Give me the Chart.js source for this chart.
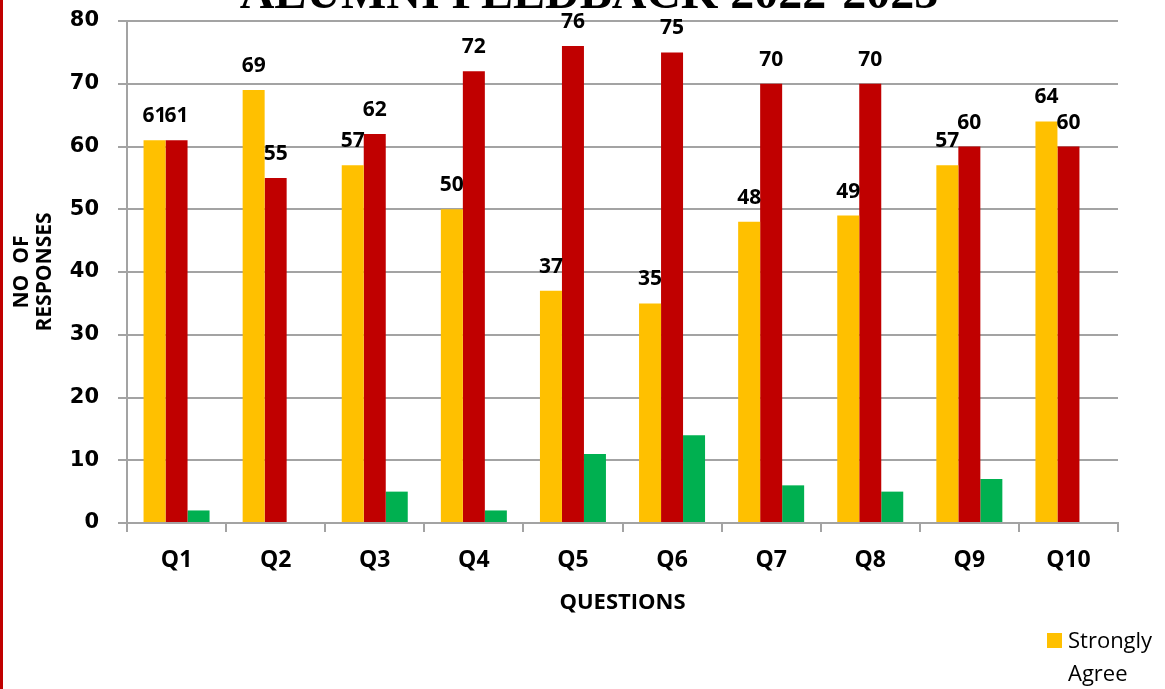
<!DOCTYPE html>
<html>
<head>
<meta charset="utf-8">
<script src="https://cdn.jsdelivr.net/npm/chart.js@4.4.0/dist/chart.umd.min.js"></script>
<style>
  html, body { margin: 0; padding: 0; background: #fff; }
  #wrap { position: relative; width: 1165px; height: 689px; }
</style>
</head>
<body>
<div id="wrap"><canvas id="barChart" width="1165" height="689"></canvas></div>
<script>
// chart data
var questions = ['Q1', 'Q2', 'Q3', 'Q4', 'Q5', 'Q6', 'Q7', 'Q8', 'Q9', 'Q10'];
var stronglyAgree = [61, 69, 57, 50, 37, 35, 48, 49, 57, 64];
var agree = [61, 55, 62, 72, 76, 75, 70, 70, 60, 60];
var neutral = [2, 0, 5, 2, 11, 14, 6, 5, 7, 0];
var yTicks = [0, 10, 20, 30, 40, 50, 60, 70, 80];

var gridColor = '#A3A3A3';
var labelFont = '"Open Sans", "Liberation Sans", sans-serif';

// title, left red line and the single visible legend item
var decorPlugin = {
    id: 'decor',
    afterDraw: function(chart) {
        var ctx = chart.ctx;
        ctx.save();
        ctx.fillStyle = '#C00000';
        ctx.fillRect(0, 0, 3, chart.height);

        ctx.fillStyle = '#000';
        ctx.font = 'bold 48px "Liberation Serif", "Times New Roman", serif';
        ctx.textAlign = 'center';
        ctx.textBaseline = 'alphabetic';
        ctx.fillText('ALUMNI FEEDBACK 2022-2023', 589, 8);

        var ds = chart.data.datasets[0];
        ctx.fillStyle = ds.backgroundColor;
        ctx.fillRect(1047, 633, 15, 15);
        ctx.fillStyle = '#000';
        ctx.font = '22px ' + labelFont;
        ctx.textAlign = 'left';
        var words = ds.label.split(' ');
        ctx.fillText(words[0], 1068, 648);
        ctx.fillText(words[1], 1068, 681);
        ctx.restore();
    }
};

// value labels above the first two series
var valueLabels = {
    id: 'valueLabels',
    afterDatasetsDraw: function(chart) {
        var ctx = chart.ctx;
        ctx.save();
        ctx.fillStyle = '#000';
        ctx.font = 'bold 21px ' + labelFont;
        ctx.textAlign = 'center';
        ctx.textBaseline = 'alphabetic';
        [0, 1].forEach(function(di) {
            var meta = chart.getDatasetMeta(di);
            meta.data.forEach(function(bar, i) {
                var v = chart.data.datasets[di].data[i];
                ctx.fillText(String(v), bar.x, bar.y - 18);
            });
        });
        ctx.restore();
    }
};

var ctx = document.getElementById('barChart').getContext('2d');
var chart = new Chart(ctx, {
    type: 'bar',
    data: {
        labels: questions,
        datasets: [
            { label: 'Strongly Agree', data: stronglyAgree, backgroundColor: '#FFC000' },
            { label: 'Agree', data: agree, backgroundColor: '#C00000' },
            { label: 'Neutral', data: neutral, backgroundColor: '#00B050' }
        ]
    },
    options: {
        responsive: false,
        animation: false,
        devicePixelRatio: 1,
        datasets: {
            bar: { categoryPercentage: 0.666, barPercentage: 1.0, borderWidth: 0 }
        },
        layout: { padding: { left: 10, right: 47, top: 21, bottom: 73 } },
        plugins: {
            legend: { display: false },
            title: { display: false },
            tooltip: { enabled: false }
        },
        scales: {
            x: {
                afterFit: function(s) { s.height = 93; },
                grid: { drawOnChartArea: false, tickLength: 9, color: gridColor, lineWidth: 2 },
                border: { color: gridColor, width: 2 },
                ticks: { color: '#000', padding: 15, font: { family: labelFont, size: 23, weight: 'bold' } },
                title: {
                    display: true,
                    text: 'QUESTIONS',
                    color: '#000',
                    padding: 0,
                    font: { family: labelFont, size: 22, weight: 'bold' }
                }
            },
            y: {
                min: 0,
                max: 80,
                afterFit: function(s) {
                    s.width = 117;
                    s.paddingTop = 0;
                    s.paddingBottom = 0;
                },
                afterBuildTicks: function(s) { s.ticks = yTicks.map(function(v) { return { value: v }; }); },
                grid: { tickLength: 9, color: gridColor, lineWidth: 2 },
                border: { color: gridColor, width: 2 },
                ticks: {
                    color: '#000',
                    padding: 19,
                    font: { family: '"DejaVu Sans", Verdana, sans-serif', size: 21, weight: 'bold' }
                },
                title: {
                    display: true,
                    text: ['NO  OF', 'RESPONSES'],
                    color: '#000',
                    padding: 0,
                    font: { family: labelFont, size: 21, weight: 'bold', lineHeight: 1.1 }
                }
            }
        }
    },
    plugins: [decorPlugin, valueLabels]
});
</script>
</body>
</html>
